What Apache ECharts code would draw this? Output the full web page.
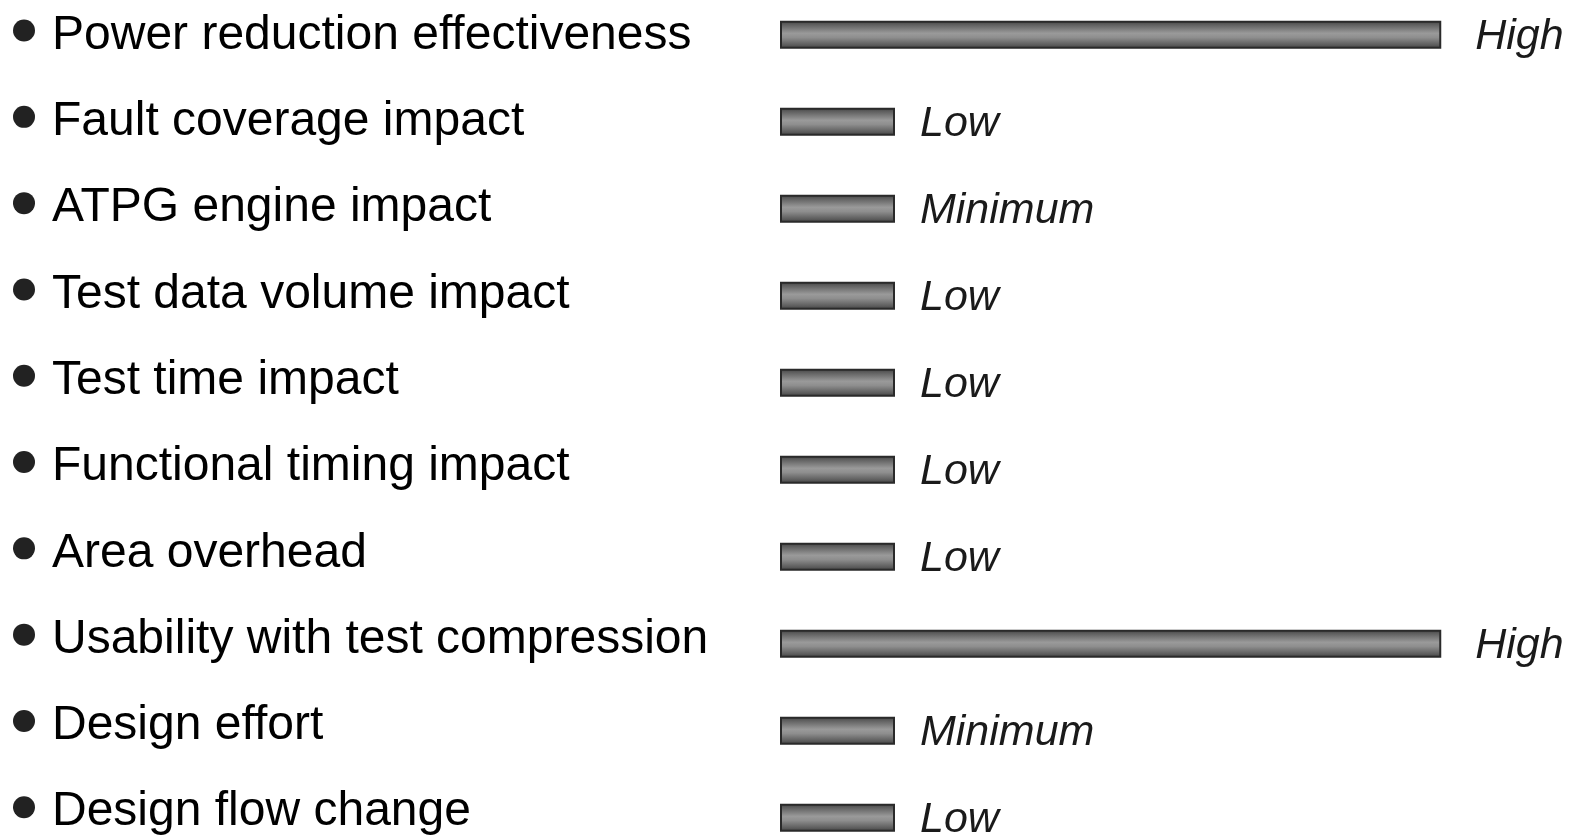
<!DOCTYPE html>
<html>
<head>
<meta charset="utf-8">
<script src="https://cdn.jsdelivr.net/npm/echarts@6/dist/echarts.min.js"></script>
<style>html,body{margin:0;padding:0;background:#fff}#c{width:1572px;height:837px}</style>
</head>
<body>
<div id="c"></div>
<script>
const categories = [
  'Power reduction effectiveness',
  'Fault coverage impact',
  'ATPG engine impact',
  'Test data volume impact',
  'Test time impact',
  'Functional timing impact',
  'Area overhead',
  'Usability with test compression',
  'Design effort',
  'Design flow change'
];
const levels = ['High', 'Low', 'Minimum', 'Low', 'Low', 'Low', 'Low', 'High', 'Minimum', 'Low'];
const scores = [5.75, 1, 1, 1, 1, 1, 1, 5.75, 1, 1];

const FONT = 'Arial, "Liberation Sans", Helvetica, sans-serif';
const chart = echarts.init(document.getElementById('c'), null, {renderer: 'canvas'});

const barGradient = new echarts.graphic.LinearGradient(0, 0, 0, 1, [
  {offset: 0, color: '#3c3c3c'},
  {offset: 0.12, color: '#5c5c5c'},
  {offset: 0.45, color: '#9a9a9a'},
  {offset: 0.6, color: '#8e8e8e'},
  {offset: 0.88, color: '#5a5a5a'},
  {offset: 1, color: '#3a3a3a'}
]);

chart.setOption({
  animation: false,
  backgroundColor: '#ffffff',
  grid: [
    {left: 780, width: 690, top: -12.6, height: 863, outerBoundsMode: 'none', containLabel: false},
    {left: 780, width: 690, top: -8.8, height: 870, outerBoundsMode: 'none', containLabel: false}
  ],
  xAxis: [
    {gridIndex: 0, type: 'value', min: 0, max: 6, show: false},
    {gridIndex: 1, type: 'value', min: 0, max: 6, show: false}
  ],
  yAxis: [
    {
      gridIndex: 0, type: 'category', inverse: true, data: categories,
      axisLine: {show: false}, axisTick: {show: false}, splitLine: {show: false},
      axisLabel: {
        align: 'left', margin: 767, hideOverlap: false,
        formatter: v => '{dot|}{sp|}{txt|' + v + '}',
        rich: {
          dot: {width: 22, height: 22, borderRadius: 11, backgroundColor: '#222222', verticalAlign: 'middle'},
          sp: {width: 17},
          txt: {fontSize: 48, fontFamily: FONT, color: '#000000', padding: [10, 0, 0, 0]}
        }
      }
    },
    {
      gridIndex: 1, type: 'category', inverse: true, data: categories,
      axisLine: {show: false}, axisTick: {show: false}, axisLabel: {show: false}, splitLine: {show: false}
    }
  ],
  series: [{
    type: 'bar',
    xAxisIndex: 1, yAxisIndex: 1,
    barWidth: 28,
    data: scores.map(v => ({value: v, label: {distance: v > 3 ? 34 : 25}})),
    itemStyle: {color: barGradient, borderColor: '#2a2a2a', borderWidth: 2},
    label: {
      show: true, position: 'right',
      formatter: p => levels[p.dataIndex],
      fontSize: 43, fontStyle: 'italic', fontFamily: FONT, color: '#1a1a1a',
      offset: [0, 2]
    }
  }]
});
</script>
</body>
</html>
